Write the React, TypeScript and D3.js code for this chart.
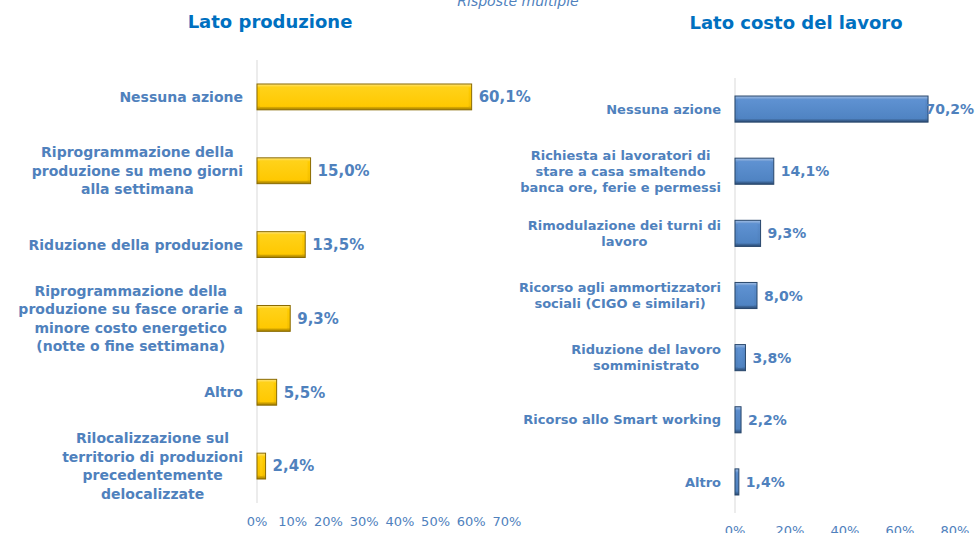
import { useEffect, useRef } from 'react';
import * as d3 from 'd3';

const prodLabels = [
  ['Nessuna azione'],
  ['Riprogrammazione della', 'produzione su meno giorni', 'alla settimana'],
  ['Riduzione della produzione'],
  ['Riprogrammazione della', 'produzione su fasce orarie a', 'minore costo energetico', '(notte o fine settimana)'],
  ['Altro'],
  ['Rilocalizzazione sul', 'territorio di produzioni', 'precedentemente', 'delocalizzate'],
];
const prodValues = [60.1, 15.0, 13.5, 9.3, 5.5, 2.4];
const prodTicks = [0, 10, 20, 30, 40, 50, 60, 70];

const lavoroLabels = [
  ['Nessuna azione'],
  ['Richiesta ai lavoratori di', 'stare a casa smaltendo', 'banca ore, ferie e permessi'],
  ['Rimodulazione dei turni di', 'lavoro'],
  ['Ricorso agli ammortizzatori', 'sociali (CIGO e similari)'],
  ['Riduzione del lavoro', 'somministrato'],
  ['Ricorso allo Smart working'],
  ['Altro'],
];
const lavoroValues = [70.2, 14.1, 9.3, 8.0, 3.8, 2.2, 1.4];
const lavoroTicks = [0, 20, 40, 60, 80];

const W = 975;
const H = 533;
const FONT = '"DejaVu Sans", Verdana, sans-serif';
const LABEL_COLOR = '#4f81bd';

const fmt = (v: number) => d3.format('.1f')(v).replace('.', ',') + '%';

interface PanelCfg {
  labels: string[][];
  values: number[];
  ticks: number[];
  x0: number;
  x1: number;
  max: number;
  y0: number;
  y1: number;
  padding: number;
  labelSize: number;
  lineH: number;
  valueSize: number;
  tickY: number;
  grad: string;
  stroke: string;
  title: string;
  titleX: number;
  titleY: number;
}

function drawPanel(svg: d3.Selection<SVGSVGElement, unknown, null, undefined>, c: PanelCfg) {
  const x = d3.scaleLinear().domain([0, c.max]).range([c.x0, c.x1]);
  const y = d3.scaleBand<number>()
    .domain(d3.range(c.values.length))
    .range([c.y0, c.y1])
    .paddingInner(c.padding)
    .paddingOuter(c.padding / 2);
  const g = svg.append('g');

  g.append('text')
    .attr('x', c.titleX).attr('y', c.titleY)
    .attr('text-anchor', 'middle')
    .attr('font-family', FONT).attr('font-weight', 'bold').attr('font-size', 18)
    .attr('fill', '#0070c0')
    .text(c.title);

  g.append('line')
    .attr('x1', x(0)).attr('x2', x(0))
    .attr('y1', c.y0).attr('y2', c.y1)
    .attr('stroke', '#d9d9d9').attr('stroke-width', 1);

  c.values.forEach((v, i) => {
    const by = y(i)!;
    const bh = y.bandwidth();
    const bw = x(v) - x(0);
    g.append('rect')
      .attr('x', x(0)).attr('y', by).attr('width', bw).attr('height', bh)
      .attr('fill', `url(#${c.grad})`)
      .attr('stroke', c.stroke).attr('stroke-width', 1);
    if (bw > 8) {
      g.append('rect')
        .attr('x', x(0) + 3).attr('y', by + 3).attr('width', bw - 6).attr('height', bh - 6)
        .attr('fill', `url(#${c.grad}-in)`);
    }

    const vt = g.append('text')
      .attr('y', by + bh / 2)
      .attr('dy', '0.36em')
      .attr('font-family', FONT).attr('font-weight', 'bold').attr('font-size', c.valueSize)
      .attr('fill', LABEL_COLOR)
      .text(fmt(v));
    const tw = (vt.node() as SVGTextElement).getComputedTextLength();
    let tx = x(v) + 7;
    if (tx + tw > W - 1) tx = W - 1 - tw;
    vt.attr('x', tx);

    // category label: lines centred inside a right-aligned block
    const lines = c.labels[i];
    const lg = g.append('g');
    const texts = lines.map((ln, k) =>
      lg.append('text')
        .attr('y', by + bh / 2 + (k - (lines.length - 1) / 2) * c.lineH)
        .attr('dy', '0.36em')
        .attr('text-anchor', 'middle')
        .attr('font-family', FONT).attr('font-weight', 'bold').attr('font-size', c.labelSize)
        .attr('fill', LABEL_COLOR)
        .text(ln)
    );
    const maxW = d3.max(texts, (t) => (t.node() as SVGTextElement).getComputedTextLength()) || 0;
    const right = x(0) - 14;
    texts.forEach((t) => t.attr('x', right - maxW / 2));
  });

  g.selectAll('text.tick')
    .data(c.ticks)
    .join('text')
    .attr('class', 'tick')
    .attr('x', (d) => x(d))
    .attr('y', c.tickY)
    .attr('text-anchor', 'middle')
    .attr('font-family', FONT).attr('font-size', 13)
    .attr('fill', LABEL_COLOR)
    .text((d) => `${d}%`);
}

export default function App() {
  const svgRef = useRef<SVGSVGElement>(null);

  useEffect(() => {
    if (!svgRef.current) return;
    const svg = d3.select(svgRef.current);
    svg.selectAll('*').remove();

    const defs = svg.append('defs');
    const mkGrad = (id: string, stops: [number, string][]) => {
      const lg = defs.append('linearGradient').attr('id', id)
        .attr('x1', 0).attr('y1', 0).attr('x2', 0).attr('y2', 1);
      stops.forEach(([o, col]) => lg.append('stop').attr('offset', o).attr('stop-color', col));
    };
    mkGrad('gold', [[0, '#ffe680'], [0.15, '#ffcc00'], [0.85, '#f5c000'], [1, '#a07c00']]);
    mkGrad('gold-in', [[0, '#ffd21a'], [1, '#ffc800']]);
    mkGrad('blue', [[0, '#a3c0e6'], [0.15, '#5a8ccc'], [0.85, '#4f81bd'], [1, '#2a4a73']]);
    mkGrad('blue-in', [[0, '#5f92d2'], [1, '#4f83c2']]);

    svg.append('text')
      .attr('x', 518).attr('y', 6)
      .attr('text-anchor', 'middle')
      .attr('font-family', FONT).attr('font-style', 'italic').attr('font-size', 14)
      .attr('fill', LABEL_COLOR)
      .text('Risposte multiple');

    drawPanel(svg, {
      labels: prodLabels, values: prodValues, ticks: prodTicks,
      x0: 257, x1: 507, max: 70, y0: 60, y1: 503, padding: 0.65,
      labelSize: 14, lineH: 18.5, valueSize: 15, tickY: 526,
      grad: 'gold', stroke: '#8a6a00',
      title: 'Lato produzione', titleX: 270, titleY: 28,
    });

    drawPanel(svg, {
      labels: lavoroLabels, values: lavoroValues, ticks: lavoroTicks,
      x0: 735, x1: 955, max: 80, y0: 78, y1: 513, padding: 0.58,
      labelSize: 13, lineH: 16, valueSize: 14, tickY: 535,
      grad: 'blue', stroke: '#27466b',
      title: 'Lato costo del lavoro', titleX: 796, titleY: 29,
    });
  }, []);

  return (
    <svg
      ref={svgRef}
      width={W}
      height={H}
      style={{ position: 'absolute', left: 0, top: 0, background: '#fff' }}
    />
  );
}
